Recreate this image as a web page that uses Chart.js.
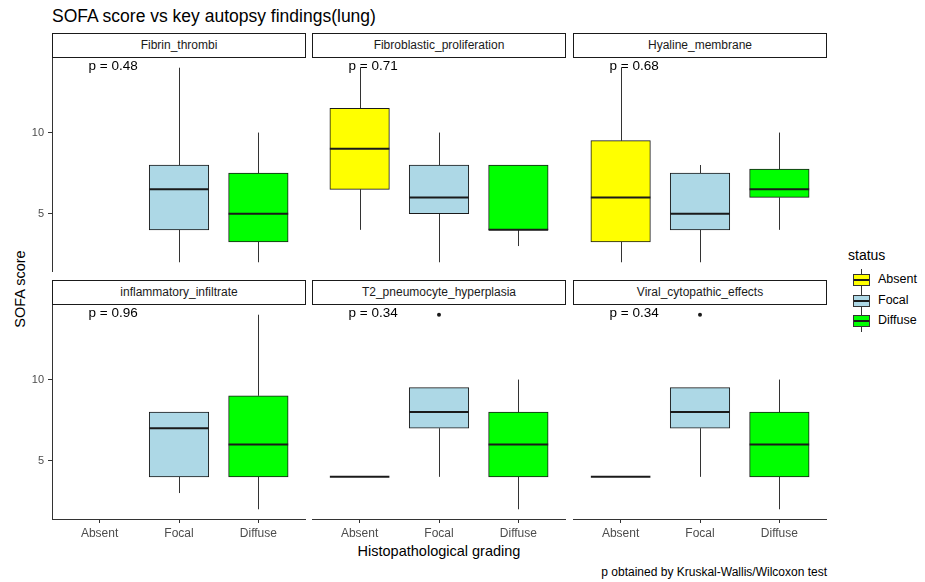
<!DOCTYPE html>
<html>
<head>
<meta charset="utf-8">
<script src="https://cdn.jsdelivr.net/npm/chart.js@4"></script>
<style>
  html, body { margin: 0; padding: 0; background: #fff; }
  #figure { position: relative; width: 925px; height: 582px; overflow: hidden; font-family: "Liberation Sans", Arial, sans-serif; color: #000; }
  .panel { position: absolute; }
  .panel canvas { display: block; }
  .strip { position: absolute; box-sizing: border-box; height: 25px; border: 1.5px solid #1a1a1a; background: #fff;
           font-size: 12px; color: #1a1a1a; text-align: center; line-height: 22px; }
  .txt { position: absolute; white-space: nowrap; }
  .legend-item { position: absolute; left: 853px; width: 80px; height: 22px; }
  .legend-item .whisk { position: absolute; left: 8px; top: 0; width: 1px; height: 22px; background: #333; }
  .legend-item .key { position: absolute; left: 0; top: 5px; width: 17px; height: 12px; box-sizing: border-box; border: 1px solid #333; }
  .legend-item .key::after { content: ''; position: absolute; left: 0; right: 0; top: 4px; height: 2px; background: #1a1a1a; }
  .legend-item .lbl { position: absolute; left: 25px; top: 3px; font-size: 12.5px; color: #000; }
</style>
</head>
<body>
<div id="figure">
  <div class="txt" style="left:52px; top:6px; font-size:17.5px;">SOFA score vs key autopsy findings(lung)</div>
  <div class="txt" style="left:20px; top:289px; font-size:14.5px; transform:translate(-50%,-50%) rotate(-90deg);">SOFA score</div>
  <div class="txt" style="left:439px; top:551px; font-size:14.5px; transform:translate(-50%,-50%);">Histopathological grading</div>
  <div class="txt" style="right:98px; top:565px; font-size:12px;">p obtained by Kruskal-Wallis/Wilcoxon test</div>
  <div class="txt" style="left:848px; top:247px; font-size:14px;">status</div>
  <div id="legend"></div>
</div>
<script>
// facets, grading levels and test results
const panelNames = ['Fibrin_thrombi', 'Fibroblastic_proliferation', 'Hyaline_membrane',
                    'inflammatory_infiltrate', 'T2_pneumocyte_hyperplasia', 'Viral_cytopathic_effects'];
const grades = ['Absent', 'Focal', 'Diffuse'];
const statusColors = ['#ffff00', '#add8e6', '#00ff00'];
const pValues = ['0.48', '0.71', '0.68', '0.96', '0.34', '0.34'];
const yTicks = [5, 10];

// box statistics per grade: [lower whisker, q1, median, q3, upper whisker], null = no cases
const fibrinThrombi       = [null, [2, 4, 6.5, 8, 14], [2, 3.25, 5, 7.5, 10]];
const fibroblastic        = [[4, 6.5, 9, 11.5, 14], [2, 5, 6, 8, 10], [3, 4, 4, 8, 8]];
const hyalineMembrane     = [[2, 3.25, 6, 9.5, 14], [2, 4, 5, 7.5, 8], [4, 6, 6.5, 7.75, 10]];
const inflammatory        = [null, [3, 4, 7, 8, 8], [2, 4, 6, 9, 14]];
const t2Hyperplasia       = [[4, 4, 4, 4, 4], [4, 7, 8, 9.5, 9.5], [2, 4, 6, 8, 10]];
const viralCytopathic     = [[4, 4, 4, 4, 4], [4, 7, 8, 9.5, 9.5], [2, 4, 6, 8, 10]];
const panelStats = [fibrinThrombi, fibroblastic, hyalineMembrane, inflammatory, t2Hyperplasia, viralCytopathic];

// outlying points: [grade index, value]
const panelOutliers = [[], [], [], [], [[1, 14]], [[1, 14]]];

// facet grid geometry
const colLeft = [52, 312, 573];
const plotW = 254;
const plotTop = [58, 305];
const stripTop = [33, 280];
const plotH = 214;
const yAxisW = 52;
const xAxisH = 26;
const xRange = [0.4, 3.6];
const yRange = [1.4, 14.6];

Chart.defaults.font.family = '"Liberation Sans", Arial, sans-serif';

const figure = document.getElementById('figure');

// whiskers under the boxes, medians and p label on top
const boxplotParts = {
  id: 'boxplotParts',
  beforeDatasetsDraw(chart) {
    const {ctx, scales: {x, y}} = chart;
    const stats = panelStats[chart.options.panelIndex];
    ctx.save();
    ctx.strokeStyle = '#333';
    ctx.lineWidth = 1;
    stats.forEach((s, g) => {
      if (!s) return;
      const px = Math.round(x.getPixelForValue(g + 1)) + 0.5;
      ctx.beginPath();
      if (s[0] < s[1]) { ctx.moveTo(px, y.getPixelForValue(s[0])); ctx.lineTo(px, y.getPixelForValue(s[1])); }
      if (s[4] > s[3]) { ctx.moveTo(px, y.getPixelForValue(s[3])); ctx.lineTo(px, y.getPixelForValue(s[4])); }
      ctx.stroke();
    });
    ctx.restore();
  },
  afterDatasetsDraw(chart) {
    const {ctx, scales: {x, y}} = chart;
    const idx = chart.options.panelIndex;
    const half = chart.options.boxWidth / 2;
    ctx.save();
    ctx.strokeStyle = '#1a1a1a';
    ctx.lineWidth = 2;
    panelStats[idx].forEach((s, g) => {
      if (!s) return;
      const px = x.getPixelForValue(g + 1);
      const py = y.getPixelForValue(s[2]);
      ctx.beginPath();
      ctx.moveTo(px - half, py);
      ctx.lineTo(px + half, py);
      ctx.stroke();
    });
    ctx.fillStyle = '#000';
    ctx.font = '13.5px "Liberation Sans", Arial, sans-serif';
    ctx.textAlign = 'left';
    ctx.textBaseline = 'middle';
    ctx.fillText('p = ' + pValues[idx], x.getPixelForValue(0.86), y.getPixelForValue(14.1));
    ctx.restore();
  }
};

function makePanel(idx) {
  const row = Math.floor(idx / 3);
  const col = idx % 3;
  const showY = col === 0;
  const showX = row === 1;

  const strip = document.createElement('div');
  strip.className = 'strip';
  strip.style.left = colLeft[col] + 'px';
  strip.style.top = stripTop[row] + 'px';
  strip.style.width = plotW + 'px';
  strip.textContent = panelNames[idx];
  figure.appendChild(strip);

  const wrap = document.createElement('div');
  wrap.className = 'panel';
  wrap.style.left = (colLeft[col] - (showY ? yAxisW : 0)) + 'px';
  wrap.style.top = plotTop[row] + 'px';
  wrap.style.width = (plotW + (showY ? yAxisW : 0)) + 'px';
  wrap.style.height = (plotH + (showX ? xAxisH : 0)) + 'px';
  const canvas = document.createElement('canvas');
  wrap.appendChild(canvas);
  figure.appendChild(wrap);

  const boxWidth = 0.75 * plotW / (xRange[1] - xRange[0]);
  const boxData = [];
  const boxColors = [];
  panelStats[idx].forEach((s, g) => {
    if (!s) return;
    boxData.push({x: g + 1, y: [s[1], s[3]]});
    boxColors.push(statusColors[g]);
  });
  const outlierData = panelOutliers[idx].map(o => ({x: o[0] + 1, y: o[1]}));

  return new Chart(canvas.getContext('2d'), {
    type: 'bar',
    data: {
      datasets: [
        {
          type: 'bar',
          data: boxData,
          backgroundColor: boxColors,
          borderColor: '#1a1a1a',
          borderWidth: 1,
          borderSkipped: false,
          barThickness: boxWidth
        },
        {
          type: 'scatter',
          data: outlierData,
          pointRadius: 2,
          pointBackgroundColor: '#1a1a1a',
          pointBorderWidth: 0
        }
      ]
    },
    options: {
      panelIndex: idx,
      boxWidth: boxWidth,
      responsive: true,
      maintainAspectRatio: false,
      animation: false,
      events: [],
      layout: { padding: 0, autoPadding: false },
      plugins: { legend: { display: false }, tooltip: { enabled: false } },
      scales: {
        x: {
          type: 'linear',
          display: showX,
          min: xRange[0],
          max: xRange[1],
          offset: false,
          grid: { display: true, offset: false, drawOnChartArea: false, tickLength: 4, color: '#333' },
          border: { display: true, color: '#333', width: 1 },
          ticks: {
            color: '#4d4d4d',
            font: { size: 12 },
            padding: 3,
            maxRotation: 0,
            callback: v => grades[v - 1]
          },
          afterBuildTicks: s => { s.ticks = grades.map((g, i) => ({value: i + 1})); },
          afterFit: s => {
            s.height = showX ? xAxisH : 0;
            s.paddingLeft = 0;
            s.paddingRight = 0;
          }
        },
        y: {
          type: 'linear',
          display: showY,
          min: yRange[0],
          max: yRange[1],
          grid: { display: true, drawOnChartArea: false, tickLength: 4, color: '#333' },
          border: { display: true, color: '#333', width: 1 },
          ticks: { color: '#4d4d4d', font: { size: 11 }, padding: 4 },
          afterBuildTicks: s => { s.ticks = yTicks.map(v => ({value: v})); },
          afterFit: s => {
            s.width = showY ? yAxisW : 0;
            s.paddingTop = 0;
            s.paddingBottom = 0;
          }
        }
      }
    },
    plugins: [boxplotParts]
  });
}

panelNames.forEach((name, i) => makePanel(i));

// status legend with boxplot keys
const legend = document.getElementById('legend');
const legendTops = [269, 290, 310];
grades.forEach((g, i) => {
  const item = document.createElement('div');
  item.className = 'legend-item';
  item.style.top = legendTops[i] + 'px';
  item.innerHTML = '<span class="whisk"></span><span class="key" style="background:' + statusColors[i] +
                   '"></span><span class="lbl">' + g + '</span>';
  legend.appendChild(item);
});
</script>
</body>
</html>
